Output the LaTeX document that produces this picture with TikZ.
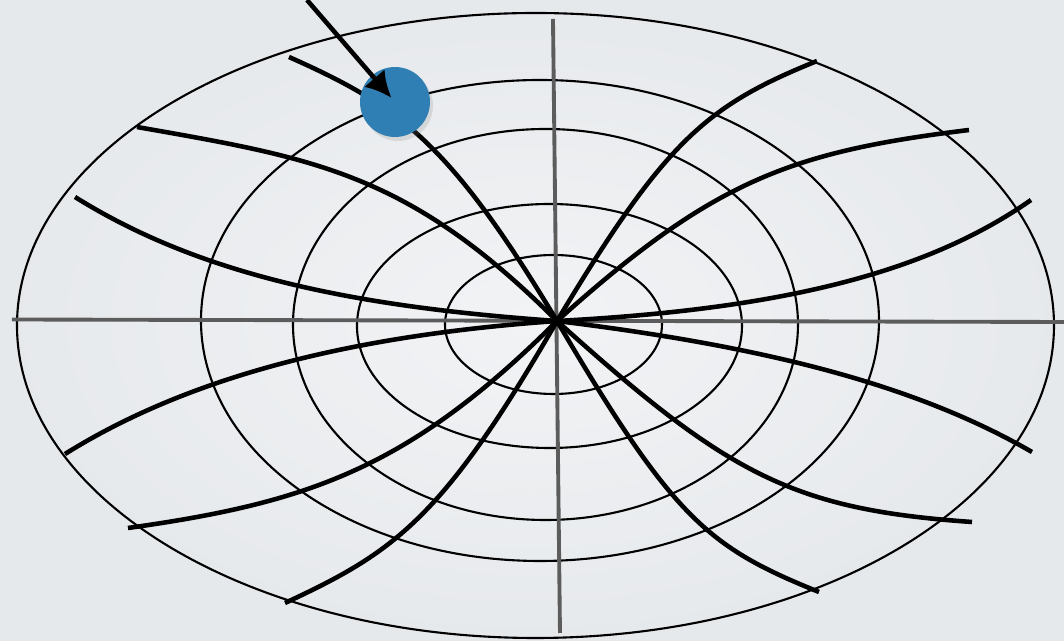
\documentclass[tikz,border=0pt]{standalone}
\usepackage{tikz}
\usetikzlibrary{arrows.meta}
\usetikzlibrary{shadows}
\definecolor{bgin}{RGB}{242,243,245}
\definecolor{bgout}{RGB}{230,233,236}
\definecolor{axisgray}{RGB}{92,92,92}
\definecolor{dotblue}{RGB}{47,127,180}
\begin{document}
\begin{tikzpicture}
\tikzset{ring/.style={line width=0.6pt,black},
  fieldline/.style={line width=1.3pt,black,line cap=butt},
  axisline/.style={line width=1.1pt,axisgray}}
\useasboundingbox (-5.57,-3.20) rectangle (5.07,3.21);
\shade[inner color=bgin,outer color=bgout] (-5.57,-3.20) rectangle (5.07,3.21);
\coordinate (o) at (0,0);

% rings
\foreach \cx/\cy/\rx/\ry in {-0.215/-0.045/5.185/3.125, -0.17/0.005/3.39/2.405,
  -0.115/-0.035/2.525/1.955, -0.075/-0.05/1.925/1.22, -0.035/-0.035/1.085/0.695}
  \draw[ring] (\cx,\cy) ellipse ({\rx} and {\ry});

% axes
\draw[axisline] (-5.45,0.015) -- (5.07,-0.01);
\draw[axisline] (-0.04,3.02) -- (0.03,-3.12);

% field lines, left half
\draw[fieldline] (o) .. controls +(121:2.1) and +(-24:1.2) .. (-2.68,2.64);
\draw[fieldline] (o) .. controls +(135:2.1) and +(-10:1.8) .. (-4.20,1.94);
\draw[fieldline] (o) .. controls +(176:2.0) and +(-32:1.5) .. (-4.82,1.24);
\draw[fieldline] (o) .. controls +(184:2.0) and +(32:1.5) .. (-4.92,-1.33);
\draw[fieldline] (o) .. controls +(225:2.1) and +(8:1.8) .. (-4.29,-2.07);
\draw[fieldline] (o) .. controls +(240:2.3) and +(25:1.2) .. (-2.72,-2.82);
% field lines, right half
\draw[fieldline] (o) .. controls +(59:2.1) and +(202:1.2) .. (2.60,2.60);
\draw[fieldline] (o) .. controls +(42:2.1) and +(187:1.8) .. (4.12,1.91);
\draw[fieldline] (o) .. controls +(3:2.2) and +(215:1.3) .. (4.74,1.21);
\draw[fieldline] (o) .. controls +(-7:2.0) and +(150:1.4) .. (4.75,-1.31);
\draw[fieldline] (o) .. controls +(-42:2.3) and +(176:1.8) .. (4.15,-2.01);
\draw[fieldline] (o) .. controls +(-59.5:2.3) and +(158:1.2) .. (2.62,-2.71);

% charge and pointer
\node (dot) at (-1.62,2.19) [circle,minimum size=0.70cm,inner sep=0pt,fill=dotblue,
  drop shadow={opacity=0.2,shadow xshift=0.03cm,shadow yshift=-0.04cm}] {};
\coordinate (src) at (-2.50,3.21);
\draw[-{Latex[length=2.6mm,width=2.7mm]},line width=1.3pt,shorten >=1.5pt] (src) -- (dot.center);
\end{tikzpicture}
\end{document}
